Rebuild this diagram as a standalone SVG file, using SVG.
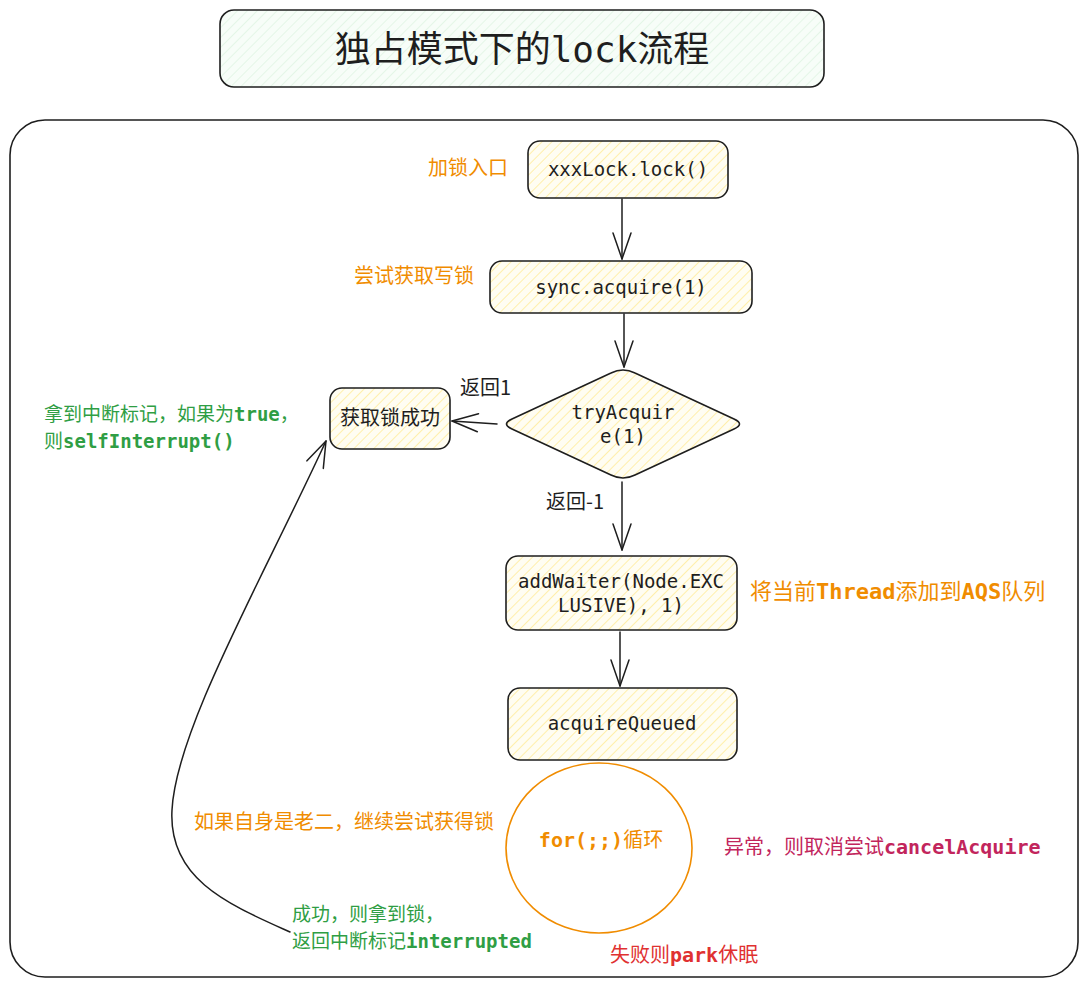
<svg xmlns="http://www.w3.org/2000/svg" width="1087" height="986" viewBox="0 0 1087 986">
  <style>
    .box { stroke: #1e1e1e; stroke-width: 1.6; }
    .code { font-family: "DejaVu Sans Mono", "Liberation Mono", "Noto Sans CJK SC", monospace; font-size: 19px; fill: #1e1e1e; }
    .cjk { font-family: "Noto Sans CJK SC", "Noto Sans", sans-serif; font-size: 20px; }
    .mono { font-family: "DejaVu Sans Mono", "Liberation Mono", monospace; font-weight: bold; }
    .dark { fill: #1e1e1e; }
    .orange { fill: #f08c00; }
    .green { fill: #2f9e44; }
    .crimson { fill: #c2255c; }
    .red { fill: #e03131; }
    .conn { fill: none; stroke: #1e1e1e; stroke-width: 1.5; stroke-linecap: round; }
  </style>
  <defs>
    <pattern id="hatchY" patternUnits="userSpaceOnUse" width="7" height="7" patternTransform="rotate(45)">
      <rect width="7" height="7" fill="#fffdf2"/>
      <line x1="0" y1="0" x2="0" y2="7" stroke="#ffec99" stroke-width="1.6"/>
    </pattern>
    <pattern id="hatchG" patternUnits="userSpaceOnUse" width="7" height="7" patternTransform="rotate(45)">
      <rect width="7" height="7" fill="#f7fdf8"/>
      <line x1="0" y1="0" x2="0" y2="7" stroke="#dff5e3" stroke-width="1.6"/>
    </pattern>
    <marker id="arrow" markerUnits="userSpaceOnUse" viewBox="-28 -12 30 24" markerWidth="30" markerHeight="24" refX="0" refY="0" orient="auto">
      <path d="M-26,-9 L0,0 L-26,9" fill="none" stroke="#1e1e1e" stroke-width="1.5" stroke-linecap="round" stroke-linejoin="round"/>
    </marker>
  </defs>

  <rect width="1087" height="986" fill="#ffffff"/>

  <g id="title">
    <rect x="220" y="10" width="604" height="77" rx="14" fill="url(#hatchG)" class="box"/>
    <text x="522" y="62" text-anchor="middle" font-size="36" class="dark" font-family="DejaVu Sans Mono, Noto Sans CJK SC, monospace">独占模式下的lock流程</text>
  </g>

  <g id="frame">
    <rect x="10" y="120" width="1068" height="857" rx="35" fill="none" class="box"/>
  </g>

  <g id="node-lock">
    <rect x="528" y="141" width="200" height="57" rx="12" fill="url(#hatchY)" class="box"/>
    <text x="628" y="176" text-anchor="middle" class="code">xxxLock.lock()</text>
  </g>
  <g id="label-entry">
    <text x="428" y="175" class="cjk orange">加锁入口</text>
  </g>

  <g id="node-acquire">
    <rect x="490" y="261" width="262" height="52" rx="12" fill="url(#hatchY)" class="box"/>
    <text x="621" y="294" text-anchor="middle" class="code">sync.acquire(1)</text>
  </g>
  <g id="label-try">
    <text x="354" y="283" class="cjk orange">尝试获取写锁</text>
  </g>

  <g id="node-tryAcquire">
    <path d="M611,373 Q623,367 635,373 L734,419 Q745,424 734,429 L635,475 Q623,481 611,475 L512,429 Q501,424 512,419 Z" fill="url(#hatchY)" class="box" stroke-linejoin="round"/>
    <text x="623" y="419" text-anchor="middle" class="code">tryAcquir</text>
    <text x="623" y="443" text-anchor="middle" class="code">e(1)</text>
  </g>

  <g id="node-success">
    <rect x="330" y="388" width="120" height="61" rx="12" fill="url(#hatchY)" class="box"/>
    <text x="390" y="425" text-anchor="middle" class="cjk dark">获取锁成功</text>
  </g>
  <g id="label-interrupt">
    <text x="44" y="421" class="cjk green" style="font-size:19px">拿到中断标记，如果为<tspan class="mono">true</tspan>，</text>
    <text x="44" y="448" class="cjk green" style="font-size:19px">则<tspan class="mono">selfInterrupt()</tspan></text>
  </g>

  <g id="node-addWaiter">
    <rect x="506" y="556" width="231" height="74" rx="12" fill="url(#hatchY)" class="box"/>
    <text x="621" y="588" text-anchor="middle" class="code">addWaiter(Node.EXC</text>
    <text x="621" y="612" text-anchor="middle" class="code">LUSIVE), 1)</text>
  </g>
  <g id="label-queue">
    <text x="750" y="599" class="cjk orange" style="font-size:22px">将当前<tspan class="mono">Thread</tspan>添加到<tspan class="mono">AQS</tspan>队列</text>
  </g>

  <g id="node-acquireQueued">
    <rect x="508" y="688" width="229" height="72" rx="12" fill="url(#hatchY)" class="box"/>
    <text x="622" y="730" text-anchor="middle" class="code">acquireQueued</text>
  </g>

  <g id="node-loop">
    <ellipse cx="599" cy="848" rx="93" ry="85" fill="none" stroke="#f08c00" stroke-width="1.6"/>
    <text x="601" y="847" text-anchor="middle" class="cjk orange"><tspan class="mono">for(;;)</tspan>循环</text>
  </g>
  <g id="label-cancel">
    <text x="724" y="854" class="cjk crimson">异常，则取消尝试<tspan class="mono">cancelAcquire</tspan></text>
  </g>
  <g id="label-park">
    <text x="610" y="962" class="cjk red">失败则<tspan class="mono">park</tspan>休眠</text>
  </g>
  <g id="label-second">
    <text x="194" y="829" class="cjk orange">如果自身是老二，继续尝试获得锁</text>
  </g>
  <g id="label-got">
    <text x="292" y="921" class="cjk green" style="font-size:19px">成功，则拿到锁，</text>
    <text x="292" y="948" class="cjk green" style="font-size:19px">返回中断标记<tspan class="mono">interrupted</tspan></text>
  </g>

  <g id="connectors">
    <path class="conn" d="M622,199 L622,259" marker-end="url(#arrow)"/>
    <path class="conn" d="M624,314 L624,367" marker-end="url(#arrow)"/>
    <path class="conn" d="M497,424 L452,421" marker-end="url(#arrow)"/>
    <text x="460" y="395" class="cjk dark">返回1</text>
    <path class="conn" d="M622,482 L622,550" marker-end="url(#arrow)"/>
    <text x="546" y="509" class="cjk dark">返回-1</text>
    <path class="conn" d="M620,632 L620,686" marker-end="url(#arrow)"/>
    <path class="conn" d="M290,932 C230,905 168,880 172,810 C176,730 262,580 326,441" marker-end="url(#arrow)"/>
  </g>
</svg>
